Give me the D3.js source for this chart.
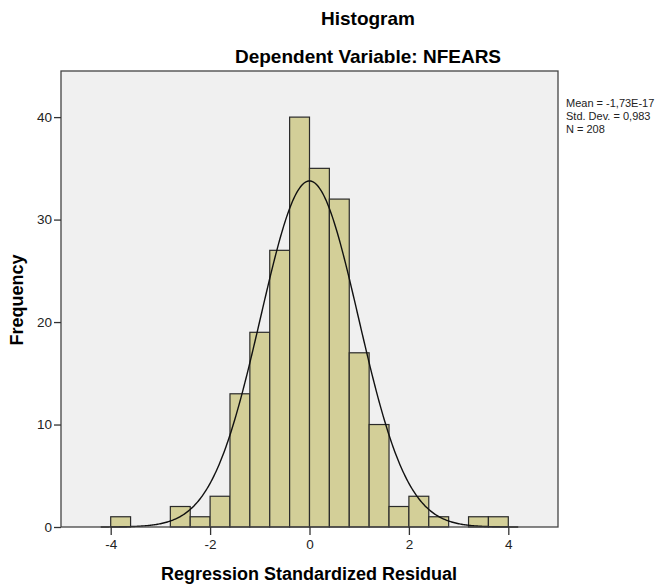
<!DOCTYPE html>
<html>
<head>
<meta charset="utf-8">
<script src="https://cdn.jsdelivr.net/npm/d3@7"></script>
<style>
  body { margin: 0; background: #fff; }
  text { font-family: Arial, "Liberation Sans", sans-serif; }
</style>
</head>
<body>
<div id="chart"></div>
<script>
// bins of width 0.4, start edge of each bin
var binStarts = [-4.0, -2.8, -2.4, -2.0, -1.6, -1.2, -0.8, -0.4, 0.0, 0.4, 0.8, 1.2, 1.6, 2.0, 2.4, 3.2, 3.6];
var binCounts = [1, 2, 1, 3, 13, 19, 27, 40, 35, 32, 17, 10, 2, 3, 1, 1, 1];
var binWidth = 0.4;
var xTicks = [-4, -2, 0, 2, 4];
var yTicks = [0, 10, 20, 30, 40];
var statsLines = ["Mean = -1,73E-17", "Std. Dev. = 0,983", "N = 208"];
var mean = -1.73e-17, sd = 0.983, n = 208;

var width = 671, height = 588,
    plot = { left: 61, right: 558, top: 71, bottom: 527 };

var svg = d3.select("#chart").append("svg")
    .attr("width", width)
    .attr("height", height);

var x = d3.scaleLinear().domain([-5, 5]).range([plot.left, plot.right]);
var y = d3.scaleLinear().domain([0, 44.5]).range([plot.bottom, plot.top]);

svg.append("rect")
    .attr("x", plot.left).attr("y", plot.top)
    .attr("width", plot.right - plot.left).attr("height", plot.bottom - plot.top)
    .style("fill", "#f0f0f0");

var data = binStarts.map(function(s, i) { return { x0: s, x1: s + binWidth, count: binCounts[i] }; });

svg.selectAll(".bar")
    .data(data)
    .enter().append("rect")
    .attr("class", "bar")
    .attr("x", function(d) { return x(d.x0); })
    .attr("y", function(d) { return y(d.count); })
    .attr("width", function(d) { return x(d.x1) - x(d.x0); })
    .attr("height", function(d) { return y(0) - y(d.count); })
    .style("fill", "#d3cf98")
    .style("stroke", "#2a2a2a")
    .style("stroke-width", 1.2);

// normal curve scaled to counts
var curve = d3.range(-4.2, 4.2001, 0.02).map(function(v) {
    var z = (v - mean) / sd;
    return [v, n * binWidth * Math.exp(-0.5 * z * z) / (sd * Math.sqrt(2 * Math.PI))];
});
svg.append("path")
    .datum(curve)
    .attr("d", d3.line().x(function(d) { return x(d[0]); }).y(function(d) { return y(d[1]); }))
    .style("fill", "none")
    .style("stroke", "#111")
    .style("stroke-width", 1.4);

// frame
svg.append("rect")
    .attr("x", plot.left).attr("y", plot.top)
    .attr("width", plot.right - plot.left).attr("height", plot.bottom - plot.top)
    .style("fill", "none")
    .style("stroke", "#444")
    .style("stroke-width", 1.3);

var yAxis = svg.append("g")
    .attr("transform", "translate(" + plot.left + ",0)")
    .call(d3.axisLeft(y).tickValues(yTicks).tickSize(7).tickPadding(2));
var xAxis = svg.append("g")
    .attr("transform", "translate(0," + plot.bottom + ")")
    .call(d3.axisBottom(x).tickValues(xTicks).tickSize(8).tickPadding(4)
        .tickFormat(function(d) { return String(d); }));
[xAxis, yAxis].forEach(function(a) {
    a.select(".domain").remove();
    a.selectAll("line").style("stroke", "#333").style("stroke-width", 1.3);
    a.selectAll("text").style("font-size", "13.5px").style("fill", "#222")
      .style("font-family", "Arial, 'Liberation Sans', sans-serif");
});

svg.append("text").attr("x", 368).attr("y", 25)
    .attr("text-anchor", "middle").style("font-size", "19px").style("font-weight", "bold")
    .text("Histogram");
svg.append("text").attr("x", 368).attr("y", 63)
    .attr("text-anchor", "middle").style("font-size", "19px").style("font-weight", "bold")
    .text("Dependent Variable: NFEARS");

svg.append("text").attr("x", 309).attr("y", 580)
    .attr("text-anchor", "middle").style("font-size", "18px").style("font-weight", "bold")
    .text("Regression Standardized Residual");
svg.append("text")
    .attr("transform", "translate(23,300) rotate(-90)")
    .attr("text-anchor", "middle").style("font-size", "18px").style("font-weight", "bold")
    .text("Frequency");

svg.selectAll(".stat")
    .data(statsLines)
    .enter().append("text")
    .attr("class", "stat")
    .attr("x", 566)
    .attr("y", function(d, i) { return 107 + i * 12.8; })
    .style("font-size", "11px")
    .style("fill", "#222")
    .text(function(d) { return d; });
</script>
</body>
</html>
